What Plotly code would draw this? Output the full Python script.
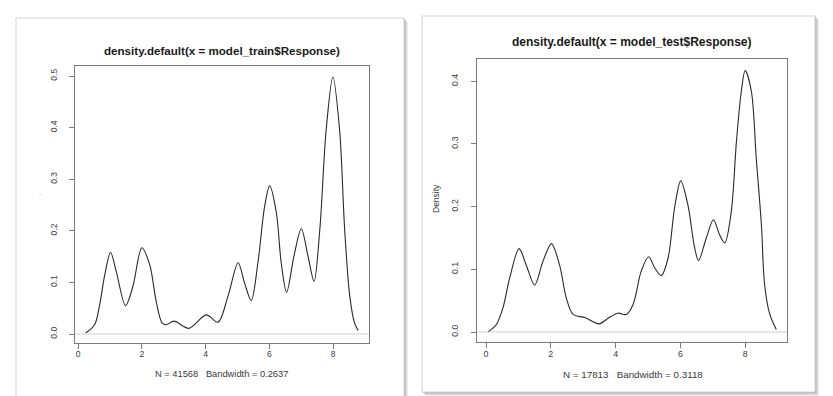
import plotly.graph_objects as go

W, H = 833, 396

# ---------------- data ----------------
train_x = [0.24, 0.52, 0.68, 0.84, 1.02, 1.20, 1.49, 1.72, 2.00, 2.25, 2.45, 2.64, 2.77,
           3.01, 3.48, 4.02, 4.39, 4.70, 5.02, 5.22, 5.43, 5.64, 5.85, 6.01, 6.22, 6.37,
           6.54, 6.77, 7.00, 7.21, 7.40, 7.58, 7.78, 7.99, 8.20, 8.36, 8.52, 8.67, 8.78]
train_y = [0.002, 0.018, 0.057, 0.115, 0.158, 0.121, 0.055, 0.092, 0.167, 0.134, 0.063, 0.021, 0.018,
           0.025, 0.011, 0.037, 0.023, 0.073, 0.138, 0.099, 0.065, 0.138, 0.247, 0.287, 0.234, 0.138,
           0.081, 0.151, 0.204, 0.151, 0.102, 0.202, 0.396, 0.498, 0.396, 0.202, 0.073, 0.021, 0.007]

test_x = [0.06, 0.32, 0.52, 0.73, 1.02, 1.24, 1.50, 1.76, 2.02, 2.27, 2.48, 2.69, 3.05, 3.49,
          3.77, 4.07, 4.33, 4.54, 4.79, 5.02, 5.21, 5.41, 5.62, 5.82, 6.01, 6.23, 6.44, 6.56,
          6.80, 7.02, 7.21, 7.37, 7.57, 7.73, 7.88, 8.00, 8.19, 8.34, 8.50, 8.60, 8.76, 8.96]
test_y = [0.000, 0.012, 0.038, 0.086, 0.133, 0.107, 0.075, 0.113, 0.141, 0.107, 0.054, 0.028, 0.023, 0.013,
          0.022, 0.030, 0.028, 0.044, 0.097, 0.120, 0.102, 0.090, 0.118, 0.198, 0.241, 0.203, 0.134, 0.114,
          0.150, 0.179, 0.155, 0.142, 0.192, 0.304, 0.384, 0.417, 0.384, 0.278, 0.171, 0.075, 0.028, 0.004]

x_ticks = [0, 2, 4, 6, 8]
train_y_ticks = [0.0, 0.1, 0.2, 0.3, 0.4, 0.5]
test_y_ticks = [0.0, 0.1, 0.2, 0.3, 0.4]

train_title = "density.default(x = model_train$Response)"
test_title = "density.default(x = model_test$Response)"
train_sub = "N = 41568   Bandwidth = 0.2637"
test_sub = "N = 17813   Bandwidth = 0.3118"
y_label = "Density"

# ---------------- helpers ----------------
def fx(px):
    return px / W

def fy(py):
    return 1 - py / H

FONT = "Liberation Sans, Arial, sans-serif"
BOX = "#7a7a7a"
TXT = "#3a3a3a"

fig = go.Figure()

fig.add_trace(go.Scatter(x=train_x, y=train_y, mode="lines",
                         line=dict(color="#2a2a2a", width=1.1, shape="spline", smoothing=0.9),
                         xaxis="x", yaxis="y", showlegend=False, hoverinfo="skip"))
fig.add_trace(go.Scatter(x=test_x, y=test_y, mode="lines",
                         line=dict(color="#2a2a2a", width=1.1, shape="spline", smoothing=0.9),
                         xaxis="x2", yaxis="y2", showlegend=False, hoverinfo="skip"))

def xaxis(domain, rng, size, anchor):
    return dict(domain=domain, range=rng, tickvals=x_ticks, ticktext=[str(v) for v in x_ticks],
                showgrid=False, zeroline=False, showline=True, linecolor=BOX, linewidth=1,
                mirror=True, ticks="outside", ticklen=5, tickcolor=BOX, tickwidth=1,
                anchor=anchor, ticklabelstandoff=-2,
                tickfont=dict(family=FONT, size=size, color=TXT), fixedrange=True)

def yaxis(domain, rng, vals, size, anchor):
    return dict(domain=domain, range=rng, tickvals=vals, ticktext=[f"{v:.1f}" for v in vals],
                showgrid=False, zeroline=False, showline=True, linecolor=BOX, linewidth=1,
                mirror=True, ticks="outside", ticklen=5, tickcolor=BOX, tickwidth=1,
                tickangle=-90, anchor=anchor, ticklabelstandoff=9,
                tickfont=dict(family=FONT, size=size, color=TXT), fixedrange=True)

# pixel geometry of the two plot boxes
L = dict(x0=67, x1=361, y0=58, y1=335)
R = dict(x0=469, x1=779, y0=51, y1=334)

fig.update_layout(
    width=W, height=H, margin=dict(l=0, r=0, t=0, b=0),
    paper_bgcolor="white", plot_bgcolor="rgba(0,0,0,0)",
    xaxis=xaxis([fx(L["x0"]), fx(L["x1"])], [(67 - 70) / 31.9, (361 - 70) / 31.9], 8.5, "y"),
    yaxis=yaxis([fy(L["y1"]), fy(L["y0"])], [(326 - 335) / 516, (326 - 58) / 516], train_y_ticks, 8.5, "x"),
    xaxis2=xaxis([fx(R["x0"]), fx(R["x1"])], [(469 - 478) / 32.4, (779 - 478) / 32.4], 8.8, "y2"),
    yaxis2=yaxis([fy(R["y1"]), fy(R["y0"])], [(324 - 334) / 627, (324 - 51) / 627], test_y_ticks, 8.8, "x2"),
    showlegend=False,
)

shapes = []
# panel frames with drop shadows
def frame(x0, y0, x1, y1):
    for off, col in [(4, "#ececec"), (3, "#dcdcdc"), (2, "#c8c8c8"), (1, "#b4b4b4")]:
        shapes.append(dict(type="rect", xref="paper", yref="paper",
                           x0=fx(x0 + off), x1=fx(x1 + off), y0=fy(y1 + off), y1=fy(y0 + off),
                           line=dict(width=0), fillcolor=col, layer="below"))
    shapes.append(dict(type="rect", xref="paper", yref="paper",
                       x0=fx(x0), x1=fx(x1), y0=fy(y1), y1=fy(y0),
                       line=dict(width=1, color="#d4d4d4"), fillcolor="white", layer="below"))

frame(8, 10, 396, 391)
frame(414, 8, 807, 384)

# zero reference lines (R draws abline(h = 0, col = "gray"))
shapes.append(dict(type="line", xref="x domain", yref="y", x0=0, x1=1, y0=0, y1=0,
                   line=dict(color="#cfcfcf", width=1)))
shapes.append(dict(type="line", xref="x2 domain", yref="y2", x0=0, x1=1, y0=0, y1=0,
                   line=dict(color="#cfcfcf", width=1)))

annotations = [
    dict(text=f"<b>{train_title}</b>", x=fx(214), y=fy(42), xref="paper", yref="paper",
         showarrow=False, xanchor="center", yanchor="middle",
         font=dict(family=FONT, size=11.6, color="#1a1a1a")),
    dict(text=f"<b>{test_title}</b>", x=fx(624), y=fy(34), xref="paper", yref="paper",
         showarrow=False, xanchor="center", yanchor="middle",
         font=dict(family=FONT, size=12, color="#1a1a1a")),
    dict(text=train_sub, x=fx(213), y=fy(366), xref="paper", yref="paper",
         showarrow=False, xanchor="center", yanchor="middle",
         font=dict(family=FONT, size=9.3, color=TXT)),
    dict(text=test_sub, x=fx(625), y=fy(366), xref="paper", yref="paper",
         showarrow=False, xanchor="center", yanchor="middle",
         font=dict(family=FONT, size=9.8, color=TXT)),
    dict(text=y_label, x=fx(428), y=fy(191), xref="paper", yref="paper",
         showarrow=False, xanchor="center", yanchor="middle", textangle=-90,
         font=dict(family=FONT, size=8.5, color=TXT)),
    dict(text=".", x=fx(32), y=fy(184), xref="paper", yref="paper",
         showarrow=False, xanchor="center", yanchor="middle",
         font=dict(family=FONT, size=8, color="#888888")),
]

fig.update_layout(shapes=shapes, annotations=annotations)
fig.write_html("out.html")
